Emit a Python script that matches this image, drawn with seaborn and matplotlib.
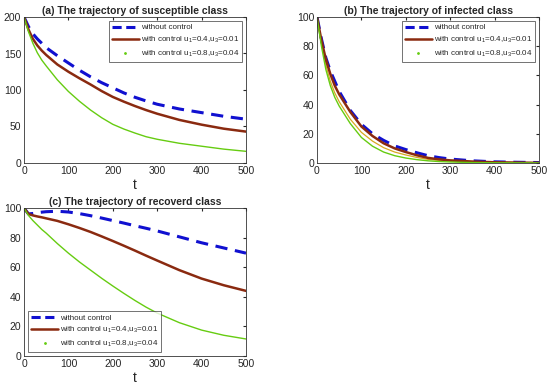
import matplotlib
matplotlib.use("Agg")
import matplotlib.pyplot as plt
import seaborn as sns
from matplotlib.lines import Line2D

# time points
t = [0, 10, 20, 30, 40, 50, 75, 100, 125, 150, 175, 200, 225, 250, 275,
     300, 350, 400, 450, 500]

# (a) susceptible
s_none = [200, 187, 177, 170, 164, 158, 147, 137, 127, 118, 110, 103, 96, 90, 85,
          80.5, 74, 69, 64, 60]
s_low = [200, 183, 170, 161, 154, 148, 135, 125, 116, 107.5, 98.5, 90.5, 84, 78, 72.5,
         67.5, 59, 52.5, 47, 43]
s_high = [200, 180, 164, 151, 141, 133, 114, 98, 84.5, 72.5, 62, 53, 46.5, 41, 36,
          32.5, 27, 23, 19, 16]

# (b) infected
i_none = [100, 85, 72, 63, 56, 49, 36, 26.5, 20, 15.5, 11.7, 9.2, 7, 5, 3.7,
          2.7, 1.5, 0.8, 0.5, 0.3]
i_low = [100, 84, 71, 61, 53, 47, 35, 25, 18.5, 13.5, 10, 7.5, 5.3, 3.5, 2.5,
         1.8, 1, 0.5, 0.3, 0.1]
i_high = [100, 80, 64, 53, 45, 39, 27, 17.5, 11.5, 7.5, 5, 3.4, 2.3, 1.5, 1,
          0.7, 0.3, 0.15, 0.1, 0.05]
i_faint = [100, 82, 67, 56, 48, 42, 30, 21, 15, 10.5, 7.5, 5.5, 3.8, 2.5, 1.8,
           1.2, 0.6, 0.3, 0.15, 0.1]

# (c) recovered
r_none = [100, 96, 96.3, 96.8, 97.2, 97.5, 97.8, 97.3, 96.2, 94.8, 93.2, 91.5,
          89.8, 88, 86.3, 84.5, 80.5, 76.5, 73, 69.5]
r_low = [100, 96, 95, 94.3, 93.7, 93, 91.3, 89, 86.5, 83.8, 80.8, 77.7, 74.5,
         71.2, 67.8, 64.5, 58, 52.3, 47.8, 44]
r_high = [100, 95, 91.5, 88.5, 85.5, 83, 76, 69.5, 63.5, 58, 52.5, 47.3, 42.3,
          37.5, 33, 29, 22.5, 17.5, 14, 11.5]

titles = ["(a) The trajectory of susceptible class",
          "(b) The trajectory of infected class",
          "(c) The trajectory of recoverd class"]
labels = ["without control",
          "with control u$_1$=0.4,u$_3$=0.01",
          "with control u$_1$=0.8,u$_3$=0.04"]
ylims = [(0, 200), (0, 100), (0, 100)]
yticks = [[0, 50, 100, 150, 200], [0, 20, 40, 60, 80, 100], [0, 20, 40, 60, 80, 100]]

blue = "#1010d0"
brown = "#8a2a10"
green = "#66cc11"

sns.set_style("white")
plt.rcParams["font.family"] = ["Liberation Sans", "DejaVu Sans"]
plt.rcParams["mathtext.fontset"] = "custom"
plt.rcParams["mathtext.rm"] = "Liberation Sans"

fig = plt.figure(figsize=(5.5, 3.87), dpi=100)
W, H = 550, 387
boxes = [(24, 17, 246, 163), (317, 17, 539, 163), (24, 208, 246, 356)]
data = [(s_none, s_low, s_high), (i_none, i_low, i_high), (r_none, r_low, r_high)]
legend_loc = ["upper right", "upper right", "lower left"]

for k in range(3):
    l, tp, r, b = boxes[k]
    ax = fig.add_axes([l / W, 1 - b / H, (r - l) / W, (b - tp) / H])
    none, low, high = data[k]
    if k == 1:
        sns.lineplot(x=t, y=i_faint, ax=ax, color="#d8a820", lw=0.9)
    sns.lineplot(x=t, y=none, ax=ax, color=blue, lw=2.2, linestyle=(0, (4, 2.5)))
    sns.lineplot(x=t, y=low, ax=ax, color=brown, lw=1.8)
    sns.lineplot(x=t, y=high, ax=ax, color=green, lw=1.0)
    ax.set_xlim(0, 500)
    ax.set_ylim(*ylims[k])
    ax.set_xticks([0, 100, 200, 300, 400, 500])
    ax.set_yticks(yticks[k])
    ax.tick_params(direction="in", labelsize=7.5, length=2.5, pad=2,
                   top=True, right=True)
    for sp in ax.spines.values():
        sp.set_linewidth(0.6)
        sp.set_color("#333333")
    ax.set_title(titles[k], fontsize=7.5, fontweight="bold", pad=2)
    ax.set_xlabel("t", fontsize=10, labelpad=1.5)
    handles = [Line2D([], [], color=blue, lw=2.2, linestyle=(0, (3, 1.5))),
               Line2D([], [], color=brown, lw=1.8),
               Line2D([], [], color=green, lw=0, marker=".", markersize=2)]
    leg = ax.legend(handles, labels, loc=legend_loc[k], fontsize=5.8,
                    frameon=True, fancybox=False, edgecolor="#333333",
                    handlelength=3.4, handletextpad=0.2, borderpad=0.35,
                    labelspacing=0.4, borderaxespad=0.5)
    leg.get_frame().set_linewidth(0.6)

fig.savefig("out.png", dpi=100)
